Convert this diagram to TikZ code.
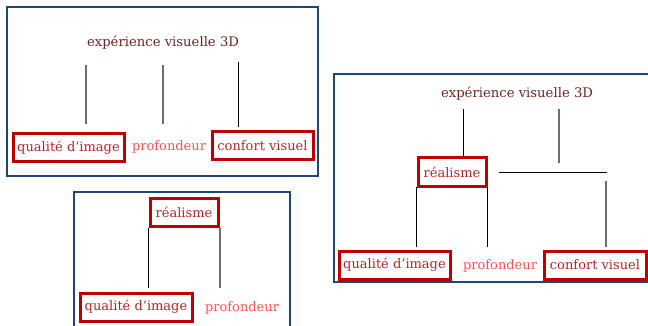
\documentclass[tikz,border=0pt]{standalone}
\usepackage{fontspec}
\setmainfont{DejaVu Serif}
\definecolor{frameblue}{RGB}{31,72,112}
\definecolor{boxred}{RGB}{192,0,0}
\definecolor{boxtext}{RGB}{180,36,36}
\definecolor{titletext}{RGB}{112,34,34}
\definecolor{lighttext}{RGB}{255,80,80}
\definecolor{linegray}{RGB}{110,110,110}
\tikzset{
  panel/.style={draw=frameblue, line width=2.8pt},
  titlenode/.style={text=titletext, font=\fontsize{13.2}{15}\selectfont, inner sep=0pt},
  boxnode/.style={draw=boxred, line width=3pt, text=boxtext, font=\fontsize{13}{15}\selectfont, inner xsep=2pt, minimum height=28pt},
  plainnode/.style={text=lighttext, font=\fontsize{13}{15}\selectfont, inner sep=0pt},
  darkline/.style={draw=black, line width=0.9pt},
  grayline/.style={draw=linegray, line width=1.4pt},
}
\begin{document}
\begin{tikzpicture}[x=1pt,y=-1pt]
\useasboundingbox (0,0) rectangle (648,326);
% panels
\draw[panel] (7,7) rectangle (318,176);
\draw[panel] (334,74) rectangle (670,282);
\draw[panel] (74,192) rectangle (290,345);

% panel 1
\node[titlenode] (t1) at (163,43) {expérience visuelle 3D};
\node[boxnode, minimum width=111pt] (q1) at (68.5,147.5) {qualité d'image};
\node[plainnode] (p1) at (169,147) {profondeur};
\node[boxnode, minimum width=101pt] (c1) at (262.5,146) {confort visuel};
\coordinate (a1) at (86,65);  \coordinate (a2) at (86,124);
\coordinate (b1) at (163,65); \coordinate (b2) at (163,124);
\coordinate (d1) at (238,62); \coordinate (d2) at (238,127);
\draw[grayline] (a1) -- (a2);
\draw[grayline] (b1) -- (b2);
\draw[darkline] (d1) -- (d2);

% panel 2
\node[titlenode] (t2) at (517,94) {expérience visuelle 3D};
\node[boxnode, minimum width=68pt] (r2) at (452,172) {réalisme};
\node[boxnode, minimum width=111pt] (q2) at (394.5,265) {qualité d'image};
\node[plainnode] (p2) at (500,266) {profondeur};
\node[boxnode, minimum width=102pt] (c2) at (595,265) {confort visuel};
\coordinate (e1) at (463,109);
\coordinate (f1) at (559,109); \coordinate (f2) at (559,163);
\coordinate (h1) at (499,172); \coordinate (h2) at (607,172);
\coordinate (g1) at (606,181); \coordinate (g2) at (606,247);
\coordinate (k1) at (416,187); \coordinate (k2) at (416,247);
\coordinate (m1) at (487,187); \coordinate (m2) at (487,247);
\draw[darkline] (e1) -- (e1 |- r2.north);
\draw[grayline] (f1) -- (f2);
\draw[darkline] (h1) -- (h2);
\draw[grayline] (g1) -- (g2);
\draw[darkline] (k1) -- (k2);
\draw[darkline] (m1) -- (m2);

% panel 3
\node[boxnode, minimum width=68pt] (r3) at (184,212.5) {réalisme};
\node[boxnode, minimum width=112pt] (q3) at (136,307) {qualité d'image};
\node[plainnode] (p3) at (242,308) {profondeur};
\coordinate (n1) at (148,228); \coordinate (n2) at (148,288);
\coordinate (o1) at (220,228); \coordinate (o2) at (220,288);
\draw[darkline] (n1) -- (n2);
\draw[grayline] (o1) -- (o2);
\end{tikzpicture}
\end{document}
